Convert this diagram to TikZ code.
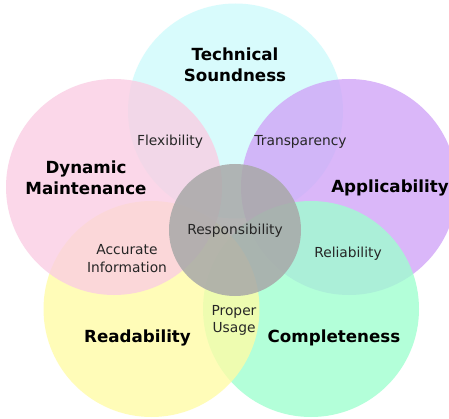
\documentclass[tikz,border=0pt]{standalone}
\usepackage{fontspec}
\setmainfont{DejaVu Sans}
\definecolor{techcyan}{RGB}{206,251,252}
\definecolor{dynpink}{RGB}{250,205,227}
\definecolor{applpurple}{RGB}{208,163,248}
\definecolor{readyellow}{RGB}{255,252,165}
\definecolor{compgreen}{RGB}{158,255,207}
\definecolor{respgray}{RGB}{168,168,168}

\begin{document}
\begin{tikzpicture}[x=1pt,y=1pt]
	\tikzstyle{every node}+=[inner sep=0pt, align=center]
	\tikzstyle{petal}=[fill opacity=0.78]
	\tikzstyle{title}=[font=\fontsize{16.7}{21}\selectfont\bfseries, text=black]
	\tikzstyle{pair}=[font=\fontsize{13.8}{18}\selectfont, text=black!85]
	\clip (0,0) rectangle (449,-419);
	\fill [white] (0,0) rectangle (449,-419);
	% five petals, back to front
	\fill [techcyan, petal] (235.5,-111) circle (107.5);
	\fill [applpurple, petal] (349,-187) circle (108);
	\fill [compgreen, petal] (311,-309) circle (108);
	\fill [readyellow, petal] (151.5,-309) circle (108);
	\fill [dynpink, petal] (114,-187) circle (108);
	% centre
	\fill [respgray, fill opacity=0.85] (235,-230) circle (66);
	% titles
	\draw (235,-65) node (tech) [title] {Technical\\Soundness};
	\draw (86,-178) node (dyn) [title] {Dynamic\\Maintenance};
	\draw (390,-188) node (appl) [title] {Applicability};
	\draw (137.5,-338) node (read) [title] {Readability};
	\draw (334,-338) node (comp) [title] {Completeness};
	% overlaps
	\draw (170,-142) node (flex) [pair] {Flexibility};
	\draw (300.5,-142) node (trans) [pair] {Transparency};
	\draw (235,-231) node (resp) [pair] {Responsibility};
	\draw (127,-259) node (accu) [pair] {Accurate\\Information};
	\draw (348,-254) node (reli) [pair] {Reliability};
	\draw (234,-320) node (usage) [pair, font=\fontsize{13.8}{17}\selectfont] {Proper\\Usage};
\end{tikzpicture}
\end{document}
